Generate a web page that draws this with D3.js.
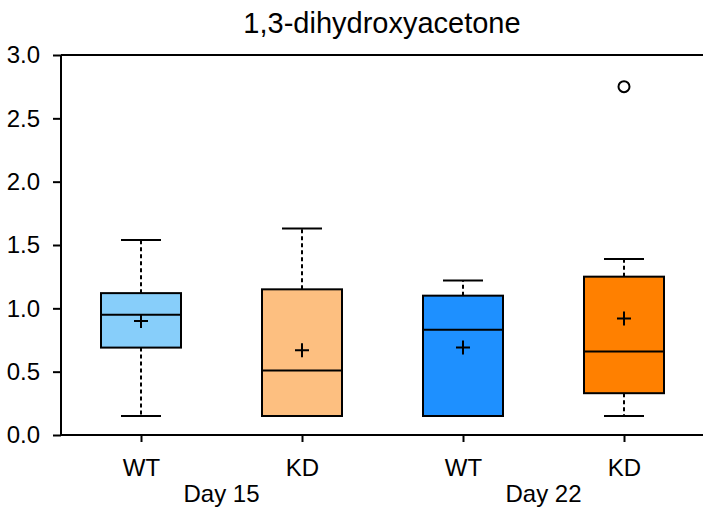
<!DOCTYPE html>
<html lang="en">
<head>
  <meta charset="UTF-8">
  <title>1,3-dihydroxyacetone</title>
  <style>
    body { margin: 0; background: #fff; }
    svg text { font-family: "Liberation Sans", Arial, sans-serif; fill: #000; }
    .titulo { font-size: 29px; text-anchor: middle; }
    .eixo text { font-size: 24px; }
    .eixo path, .eixo line { stroke: #000; stroke-width: 2; }
  </style>
</head>
<body>
  <svg id="grafico"></svg>

  <script src="https://d3js.org/d3.v7.min.js"></script>
  <script>
    const grupos = ['WT', 'KD', 'WT', 'KD'];
    const dias = ['Day 15', 'Day 15', 'Day 22', 'Day 22'];
    const cores = ['#87cefa', '#fdbf80', '#1e90ff', '#ff8000'];
    const minimos = [0.15, 0.15, 0.15, 0.15];
    const q1 = [0.69, 0.15, 0.15, 0.33];
    const medianas = [0.95, 0.51, 0.83, 0.66];
    const q3 = [1.12, 1.15, 1.10, 1.25];
    const maximos = [1.54, 1.63, 1.22, 1.39];
    const medias = [0.90, 0.67, 0.69, 0.92];
    const outliers = [[], [], [], [2.75]];
    const ticksY = [0, 0.5, 1, 1.5, 2, 2.5, 3];

    function executa() {
      const largura = 703;
      const altura = 514;
      const esq = 61, topo = 55, base = 435;
      const svg = d3.select('#grafico').attr('width', largura).attr('height', altura);

      const ids = grupos.map((g, i) => i);
      const x = d3.scalePoint().domain(ids).range([141, 624]);
      const y = d3.scaleLinear().domain([0, 3]).range([base, topo]);
      const larguraBox = 80;
      const larguraCap = 40;

      svg.append('text').classed('titulo', true)
        .attr('x', 382).attr('y', 33).text('1,3-dihydroxyacetone');

      // moldura superior
      svg.append('line').attr('x1', esq).attr('x2', largura)
        .attr('y1', topo).attr('y2', topo).attr('stroke', '#000').attr('stroke-width', 2);

      const eixoY = svg.append('g').classed('eixo', true)
        .attr('transform', `translate(${esq},0)`)
        .call(d3.axisLeft(y).tickValues(ticksY).tickFormat(d3.format('.1f')).tickSizeOuter(0).tickSize(8).tickPadding(13));
      eixoY.select('.domain').attr('d', `M0,${topo}V${base}`);

      const eixoX = svg.append('g').classed('eixo', true)
        .attr('transform', `translate(0,${base})`)
        .call(d3.axisBottom(x).tickFormat(i => grupos[i]).tickSizeOuter(0).tickSize(7));
      eixoX.select('.domain').attr('d', `M${esq},0H${largura}`);
      eixoX.selectAll('.tick text').attr('y', 41).attr('dy', 0);

      // rótulos dos dias
      const diasUnicos = Array.from(new Set(dias));
      diasUnicos.forEach(dia => {
        const idx = ids.filter(i => dias[i] === dia);
        const cx = d3.mean(idx, i => x(i));
        svg.append('text').attr('x', cx).attr('y', base + 67)
          .attr('text-anchor', 'middle').style('font-size', '24px').text(dia);
      });

      const box = svg.selectAll('.box').data(ids).enter().append('g').classed('box', true);

      // bigodes
      box.append('line')
        .attr('x1', i => x(i)).attr('x2', i => x(i))
        .attr('y1', i => y(q3[i])).attr('y2', i => y(maximos[i]))
        .attr('stroke', '#000').attr('stroke-width', 2).attr('stroke-dasharray', '4,3');
      box.append('line')
        .attr('x1', i => x(i)).attr('x2', i => x(i))
        .attr('y1', i => y(q1[i])).attr('y2', i => y(minimos[i]))
        .attr('stroke', '#000').attr('stroke-width', 2).attr('stroke-dasharray', '4,3');
      box.append('line')
        .attr('x1', i => x(i) - larguraCap / 2).attr('x2', i => x(i) + larguraCap / 2)
        .attr('y1', i => y(maximos[i])).attr('y2', i => y(maximos[i]))
        .attr('stroke', '#000').attr('stroke-width', 2);
      box.append('line')
        .attr('x1', i => x(i) - larguraCap / 2).attr('x2', i => x(i) + larguraCap / 2)
        .attr('y1', i => y(minimos[i])).attr('y2', i => y(minimos[i]))
        .attr('stroke', '#000').attr('stroke-width', 2);

      // caixas
      box.append('rect')
        .attr('x', i => x(i) - larguraBox / 2)
        .attr('y', i => y(q3[i]))
        .attr('width', larguraBox)
        .attr('height', i => y(q1[i]) - y(q3[i]))
        .attr('fill', i => cores[i])
        .attr('stroke', '#000').attr('stroke-width', 2);

      // mediana
      box.append('line')
        .attr('x1', i => x(i) - larguraBox / 2).attr('x2', i => x(i) + larguraBox / 2)
        .attr('y1', i => y(medianas[i])).attr('y2', i => y(medianas[i]))
        .attr('stroke', '#000').attr('stroke-width', 2);

      // média (+)
      box.append('path')
        .attr('d', i => `M${x(i) - 7},${y(medias[i])}h14M${x(i)},${y(medias[i]) - 7}v14`)
        .attr('stroke', '#000').attr('stroke-width', 2);

      // outliers
      ids.forEach(i => {
        svg.selectAll(null).data(outliers[i]).enter().append('circle')
          .attr('cx', x(i)).attr('cy', d => y(d)).attr('r', 5.5)
          .attr('fill', '#fff').attr('stroke', '#000').attr('stroke-width', 2);
      });
    }

    executa();
  </script>
</body>
</html>
